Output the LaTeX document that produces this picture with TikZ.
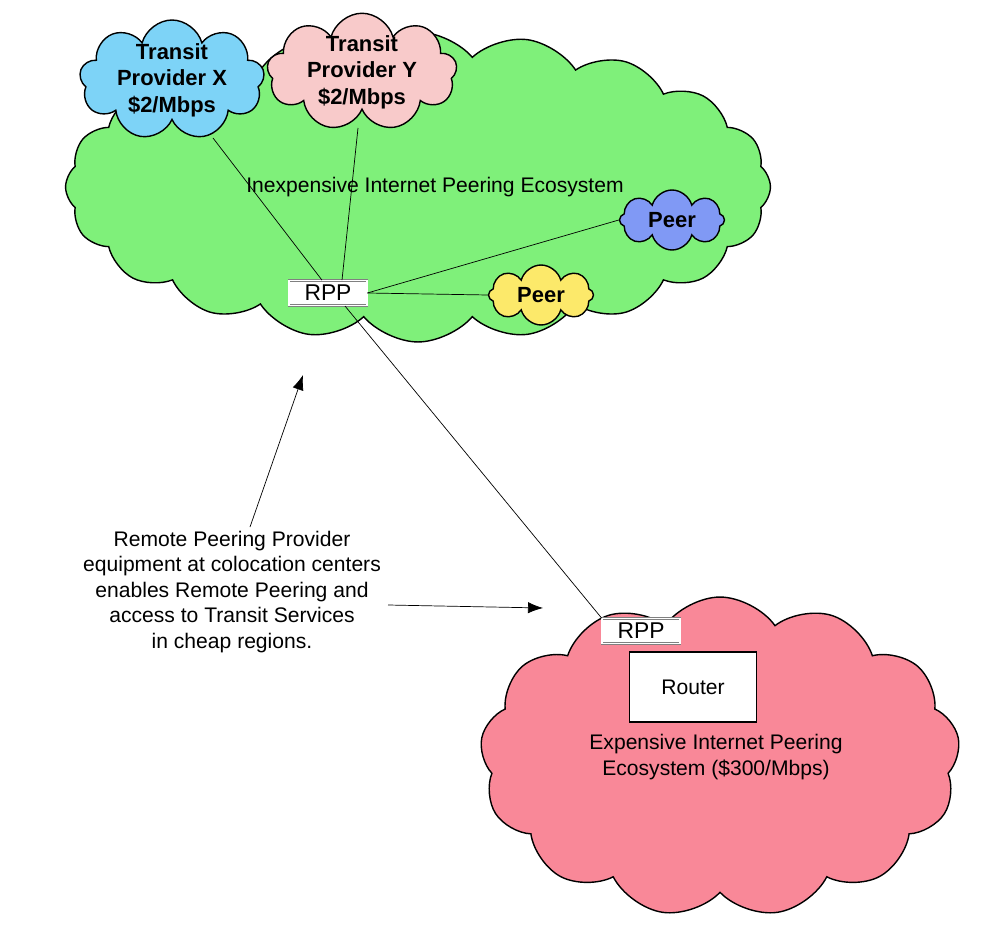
\documentclass[tikz,border=0pt]{standalone}
\usepackage{fontspec}
\setmainfont{Liberation Sans}
\usetikzlibrary{shapes.symbols,arrows.meta}
\definecolor{ecogreen}{HTML}{7FF07A}
\definecolor{transblue}{HTML}{7DD3F7}
\definecolor{transpink}{HTML}{F8CACA}
\definecolor{peerblue}{HTML}{8099F5}
\definecolor{peeryellow}{HTML}{FCE96A}
\definecolor{ecored}{HTML}{F98898}
\tikzset{
  puff/.style={cloud, cloud puffs=#1, draw=black, thick, inner sep=0pt},
  rpp/.style={draw=gray, double=white, double distance=0.6pt, fill=white, minimum width=1.56cm, minimum height=0.5cm, inner sep=0pt, font=\fontsize{13}{15}\selectfont},
  lbl/.style={font=\fontsize{12}{14.5}\selectfont, align=center},
  blbl/.style={font=\fontsize{12.5}{15}\selectfont\bfseries, align=center}
}
\begin{document}
\begin{tikzpicture}[x=0.02cm,y=-0.02cm]
  \useasboundingbox (0,0) rectangle (1000,942);
  % clouds
  \node[puff=20, cloud puff arc=100, fill=ecogreen, minimum width=14.1cm, minimum height=6.2cm] (green) at (418,187) {};
  \node[puff=13, cloud puff arc=110, fill=ecored, minimum width=9.6cm, minimum height=6.4cm] (red) at (720,757) {};
  \node[puff=9, fill=transblue, minimum width=3.7cm, minimum height=2.4cm] (tx) at (172,80) {};
  \node[puff=9, fill=transpink, minimum width=3.8cm, minimum height=2.35cm] (ty) at (362,72) {};
  \node[puff=8, fill=peerblue, minimum width=2.1cm, minimum height=1.2cm] (pb) at (672,220) {};
  \node[puff=8, fill=peeryellow, minimum width=2.1cm, minimum height=1.2cm] (py) at (541,295) {};
  \node[blbl] at (tx) {Transit\\Provider X\\\$2/Mbps};
  \node[blbl] at (ty) {Transit\\Provider Y\\\$2/Mbps};
  \node[blbl] at (pb) {Peer};
  \node[blbl] at (py) {Peer};
  \node[lbl] (greentext) at (435,187) {Inexpensive Internet Peering Ecosystem};
  % boxes
  \node[rpp] (rppa) at (328,293) {RPP};
  \node[rpp] (rppb) at (641,631) {RPP};
  \node[draw, thick, fill=white, minimum width=2.54cm, minimum height=1.4cm, lbl] (router) at (693,687) {Router};
  \node[lbl] (redtext) at (716,757) {Expensive Internet Peering\\Ecosystem (\$300/Mbps)};
  % links
  \coordinate (txend) at (213,138);
  \coordinate (tyend) at (358,128);
  \coordinate (rppfoot) at (345,306);
  \draw (rppa.north) ++(-6,0) coordinate (xfoot) -- (txend);
  \draw (rppa.north) ++(14,0) coordinate (yfoot) -- (tyend);
  \draw (rppa.east) -- (pb.west);
  \draw (rppa.east) -- (py.west);
  \draw (rppfoot) -- (rppb.north west);
  % note
  \node[lbl] (note) at (232,592) {Remote Peering Provider\\equipment at colocation centers\\enables Remote Peering and\\access to Transit Services\\in cheap regions.};
  \coordinate (upend) at (303,375);
  \coordinate (rightend) at (543,608);
  \draw[-{Latex[length=3mm]}] (note.north) ++(18,2) -- (upend);
  \draw[-{Latex[length=3mm]}] (388,605) -- (rightend);
\end{tikzpicture}
\end{document}
